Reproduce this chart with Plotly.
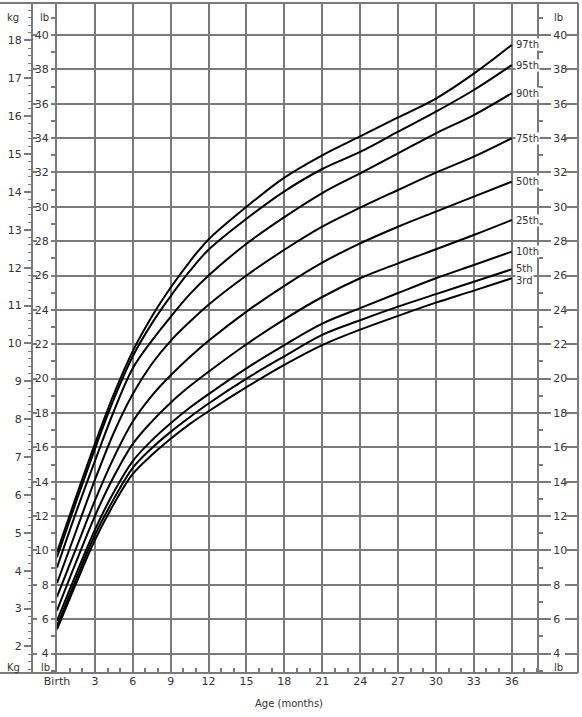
import plotly.graph_objects as go

# ---------------- data (weight in lb) ----------------
ages = [0, 1.5, 3, 4.5, 6, 7.5, 9, 10.5, 12, 15, 18, 21, 24, 27, 30, 33, 36]

p97 = [9.9, 13.1, 16.2, 19.1, 21.6, 23.6, 25.3, 26.8, 28.1, 30.0, 31.7, 33.0, 34.1, 35.2, 36.3, 37.75, 39.42]
p95 = [9.6, 12.8, 15.9, 18.8, 21.3, 23.2, 24.8, 26.25, 27.5, 29.3, 30.9, 32.2, 33.2, 34.37, 35.54, 36.8, 38.25]
p90 = [9.0, 12.2, 15.2, 18.1, 20.6, 22.2, 23.6, 24.9, 26.0, 27.85, 29.4, 30.8, 31.95, 33.11, 34.28, 35.34, 36.61]
p75 = [8.1, 11.1, 14.1, 16.85, 19.1, 20.85, 22.2, 23.3, 24.3, 26.0, 27.5, 28.85, 29.95, 30.98, 31.99, 32.92, 33.99]
p50 = [7.3, 10.1, 12.9, 15.4, 17.5, 19.0, 20.2, 21.25, 22.2, 23.9, 25.4, 26.75, 27.87, 28.84, 29.72, 30.59, 31.46]
p25 = [6.5, 9.3, 12.0, 14.3, 16.2, 17.5, 18.6, 19.55, 20.4, 22.0, 23.45, 24.75, 25.84, 26.71, 27.53, 28.36, 29.23]
p10 = [5.9, 8.6, 11.2, 13.4, 15.2, 16.4, 17.4, 18.3, 19.1, 20.6, 21.95, 23.2, 24.1, 24.98, 25.84, 26.61, 27.39]
p05 = [5.6, 8.3, 10.9, 13.0, 14.8, 15.95, 16.9, 17.75, 18.55, 20.0, 21.3, 22.55, 23.4, 24.19, 24.92, 25.64, 26.36]
p03 = [5.4, 8.05, 10.6, 12.7, 14.45, 15.55, 16.5, 17.35, 18.1, 19.5, 20.8, 21.95, 22.85, 23.65, 24.42, 25.12, 25.84]

series = [p97, p95, p90, p75, p50, p25, p10, p05, p03]
labels = ["97th", "95th", "90th", "75th", "50th", "25th", "10th", "5th", "3rd"]
label_nudge = [0, 0, 0, 0, 0, 0, 0, 1, -2]

month_ticks = list(range(0, 37, 3))
month_text = ["Birth"] + [str(m) for m in month_ticks[1:]]
lb_ticks = list(range(4, 41, 2))
kg_ticks = list(range(2, 19))

LB_PER_KG = 2.20462

# ---------------- layout geometry (pixels) ----------------
W, H = 582, 717
PLOT_L, PLOT_R = 57, 538      # birth line / right lb spine
FRAME_R = 578
PLOT_T, PLOT_B = 3, 673
KG_X = 32
PX_PER_MONTH = (511.7 - 57) / 36
Y40, Y4 = 35.0, 653.5
PX_PER_LB = (Y4 - Y40) / 36

def fx(p):
    return p / W

def fy(p):
    return 1 - p / H

lb_top = 40 + (Y40 - PLOT_T) / PX_PER_LB
lb_bot = 4 - (PLOT_B - Y4) / PX_PER_LB
x_max = (PLOT_R - PLOT_L) / PX_PER_MONTH

GRID = "#7a7a7a"
TXT = "#333333"
FONT = "DejaVu Sans, Verdana, sans-serif"

fig = go.Figure()
for vals, name in zip(series, labels):
    fig.add_trace(go.Scatter(
        x=ages, y=vals, mode="lines", name=name,
        line=dict(color="black", width=2, shape="spline", smoothing=1.0),
        hoverinfo="skip"))

# empty traces so that the extra y axes get drawn
for ax in ("y2", "y3", "y4", "y5"):
    fig.add_trace(go.Scatter(x=[None], y=[None], yaxis=ax, mode="lines",
                             hoverinfo="skip", showlegend=False))

# percentile labels
for vals, name, dy in zip(series, labels, label_nudge):
    fig.add_annotation(x=ages[-1], y=vals[-1], text=name, xanchor="left",
                       yanchor="middle", xshift=3, yshift=dy, showarrow=False,
                       font=dict(family=FONT, size=10, color=TXT),
                       bgcolor="white", borderpad=0)

ydom = [fy(PLOT_B), fy(PLOT_T)]
tickfont = dict(family=FONT, size=11, color=TXT)

fig.update_layout(
    template="none",
    width=W, height=H, margin=dict(l=0, r=0, t=0, b=0, autoexpand=False),
    paper_bgcolor="white", plot_bgcolor="white", showlegend=False,
    font=dict(family=FONT, size=11, color=TXT),
    xaxis=dict(
        domain=[fx(PLOT_L), fx(PLOT_R)], range=[0, x_max], automargin=False,
        tickmode="array", tickvals=month_ticks, ticktext=month_text,
        ticks="inside", ticklen=5, tickcolor=GRID, tickwidth=1.5,
        showgrid=True, gridcolor=GRID, gridwidth=2,
        zeroline=False, showline=False,
        minor=dict(dtick=1, tick0=0, ticks="inside", ticklen=5,
                   tickcolor=GRID, tickwidth=1.5, showgrid=False),
        tickfont=tickfont, fixedrange=True,
    ),
    yaxis=dict(
        domain=ydom, range=[lb_bot, lb_top], automargin=False,
        tickmode="array", tickvals=lb_ticks,
        ticks="outside", ticklen=4, tickcolor=GRID, tickwidth=1.5,
        showgrid=True, gridcolor=GRID, gridwidth=2,
        zeroline=False, showline=True, linecolor=GRID, linewidth=2,
        minor=dict(dtick=1, tick0=0, ticks="outside", ticklen=4,
                   tickcolor=GRID, tickwidth=1.5, showgrid=False),
        tickfont=tickfont, fixedrange=True,
    ),
    yaxis2=dict(
        overlaying="y", anchor="free", position=fx(KG_X), side="left",
        range=[lb_bot / LB_PER_KG, lb_top / LB_PER_KG], automargin=False,
        tickmode="array", tickvals=kg_ticks,
        ticks="outside", ticklen=7, tickcolor=GRID, tickwidth=1.5,
        showgrid=False, zeroline=False, showline=True, linecolor=GRID, linewidth=2,
        minor=dict(dtick=0.2, tick0=0, ticks="outside", ticklen=3,
                   tickcolor=GRID, tickwidth=1, showgrid=False),
        tickfont=tickfont, fixedrange=True,
    ),
    yaxis3=dict(
        overlaying="y", anchor="free", position=fx(PLOT_R), side="right",
        range=[lb_bot, lb_top], automargin=False,
        tickmode="array", tickvals=lb_ticks,
        ticks="outside", ticklen=12, tickcolor=GRID, tickwidth=2,
        showgrid=False, zeroline=False, showline=True, linecolor=GRID, linewidth=2,
        minor=dict(dtick=1, tick0=0, ticks="outside", ticklen=4,
                   tickcolor=GRID, tickwidth=1.5, showgrid=False),
        tickfont=tickfont, fixedrange=True,
    ),
    yaxis4=dict(
        overlaying="y", anchor="free", position=fx(FRAME_R), side="right",
        range=[lb_bot, lb_top], automargin=False,
        tickmode="array", tickvals=lb_ticks,
        ticks="inside", ticklen=12, tickcolor=GRID, tickwidth=2,
        showticklabels=False, showgrid=False, zeroline=False,
        showline=True, linecolor=GRID, linewidth=2,
        fixedrange=True,
    ),
    # small lb marks on the right side of the kg spine
    yaxis5=dict(
        overlaying="y", anchor="free", position=fx(KG_X), side="right",
        range=[lb_bot, lb_top], automargin=False,
        tickmode="array", tickvals=lb_ticks,
        ticks="outside", ticklen=4, tickcolor=GRID, tickwidth=1.5,
        showticklabels=False, showgrid=False, zeroline=False, showline=False,
        fixedrange=True,
    ),
)

# frame lines top and bottom
for yy in (PLOT_T, PLOT_B):
    fig.add_shape(type="line", xref="paper", yref="paper",
                  x0=0, x1=fx(FRAME_R), y0=fy(yy), y1=fy(yy),
                  line=dict(color=GRID, width=2))

# corner unit labels
corner = [("kg", 13, 17), ("lb", 44, 17), ("lb", 558, 17),
          ("Kg", 13, 667), ("lb", 45, 667), ("lb", 558, 667)]
for t, x, y in corner:
    fig.add_annotation(x=fx(x), y=fy(y), xref="paper", yref="paper", text=t,
                       showarrow=False, xanchor="center", yanchor="middle",
                       font=dict(family=FONT, size=10, color=TXT))

fig.add_annotation(x=fx(289), y=fy(703), xref="paper", yref="paper",
                   text="Age (months)", showarrow=False,
                   xanchor="center", yanchor="middle",
                   font=dict(family=FONT, size=10, color=TXT))

fig.write_html("out.html")
